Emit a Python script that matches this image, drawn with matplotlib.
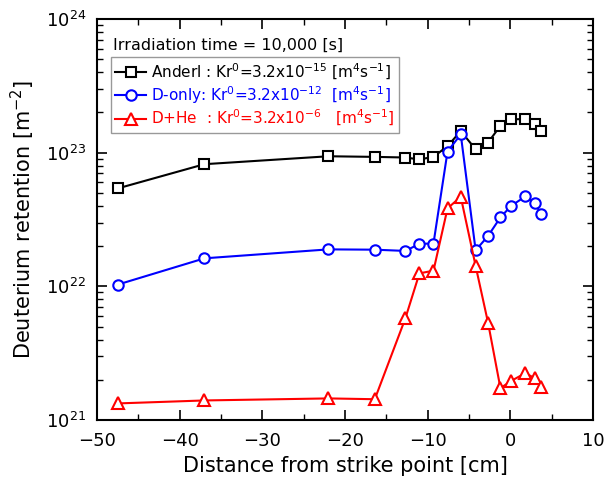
import numpy as np
import matplotlib
matplotlib.use("Agg")
import matplotlib.pyplot as plt

plt.rcParams['font.family'] = ['DejaVu Sans']
plt.rcParams['mathtext.fontset'] = 'dejavusans'

# distance from strike point [cm]
x_pos = [-47.5, -37.0, -22.0, -16.4, -12.7, -11.0, -9.3, -7.6, -6.0,
         -4.2, -2.7, -1.2, 0.1, 1.8, 3.0, 3.7]

anderl = [5.4e22, 8.2e22, 9.4e22, 9.3e22, 9.2e22, 8.9e22, 9.3e22, 1.12e23, 1.45e23,
          1.06e23, 1.19e23, 1.59e23, 1.78e23, 1.78e23, 1.63e23, 1.46e23]
d_only = [1.03e22, 1.62e22, 1.89e22, 1.88e22, 1.84e22, 2.08e22, 2.09e22, 1.02e23, 1.37e23,
          1.86e22, 2.38e22, 3.28e22, 4.0e22, 4.7e22, 4.2e22, 3.45e22]
d_he = [1.33e21, 1.4e21, 1.45e21, 1.43e21, 5.76e21, 1.25e22, 1.31e22, 3.83e22, 4.68e22,
        1.42e22, 5.35e21, 1.73e21, 1.96e21, 2.24e21, 2.05e21, 1.76e21]

labels = [r"Anderl : Kr$^0$=3.2x10$^{-15}$ [m$^4$s$^{-1}$]",
          r"D-only: Kr$^0$=3.2x10$^{-12}$  [m$^4$s$^{-1}$]",
          r"D+He  : Kr$^0$=3.2x10$^{-6}$   [m$^4$s$^{-1}$]"]
colors = ["black", "blue", "red"]
markers = ["s", "o", "^"]

fig = plt.figure(figsize=(6.16, 4.9), dpi=100)
ax = fig.add_axes([0.1575, 0.1429, 0.8052, 0.8183])

for y, c, m, lab, ms in zip([anderl, d_only, d_he], colors, markers, labels, [7, 7.5, 8.5]):
    ax.plot(x_pos, y, color=c, marker=m, markersize=ms, markerfacecolor='white',
            markeredgecolor=c, markeredgewidth=1.5, linewidth=1.5, label=lab)

ax.set_yscale('log')
ax.set_xlim(-50, 10)
ax.set_ylim(1e21, 1e24)
ax.set_xticks(np.arange(-50, 11, 10))
ax.set_xticks(np.arange(-45, 10, 10), minor=True)
ax.tick_params(which='both', direction='in', top=True, right=True, labelsize=13)
ax.tick_params(which='major', length=7, width=1.2)
ax.tick_params(which='minor', length=4, width=1)
ax.tick_params(axis='x', which='major', pad=9)
ax.tick_params(axis='y', which='major', pad=8)
for s in ax.spines.values():
    s.set_linewidth(1.5)

ax.set_xlabel("Distance from strike point [cm]", fontsize=15, labelpad=4)
ax.set_ylabel(r"Deuterium retention [m$^{-2}$]", fontsize=15, labelpad=6)

ax.text(0.032, 0.935, "Irradiation time = 10,000 [s]", transform=ax.transAxes,
        fontsize=11.5, va='center', ha='left')

leg = ax.legend(loc='upper left', bbox_to_anchor=(0.028, 0.905), fontsize=11,
                frameon=True, fancybox=False, edgecolor='gray', handlelength=2.0,
                handletextpad=0.3, borderpad=0.3, labelspacing=0.15, borderaxespad=0)
leg.get_frame().set_linewidth(1.0)
for t, c in zip(leg.get_texts(), colors):
    t.set_color(c)

fig.savefig("out.png", dpi=100)
